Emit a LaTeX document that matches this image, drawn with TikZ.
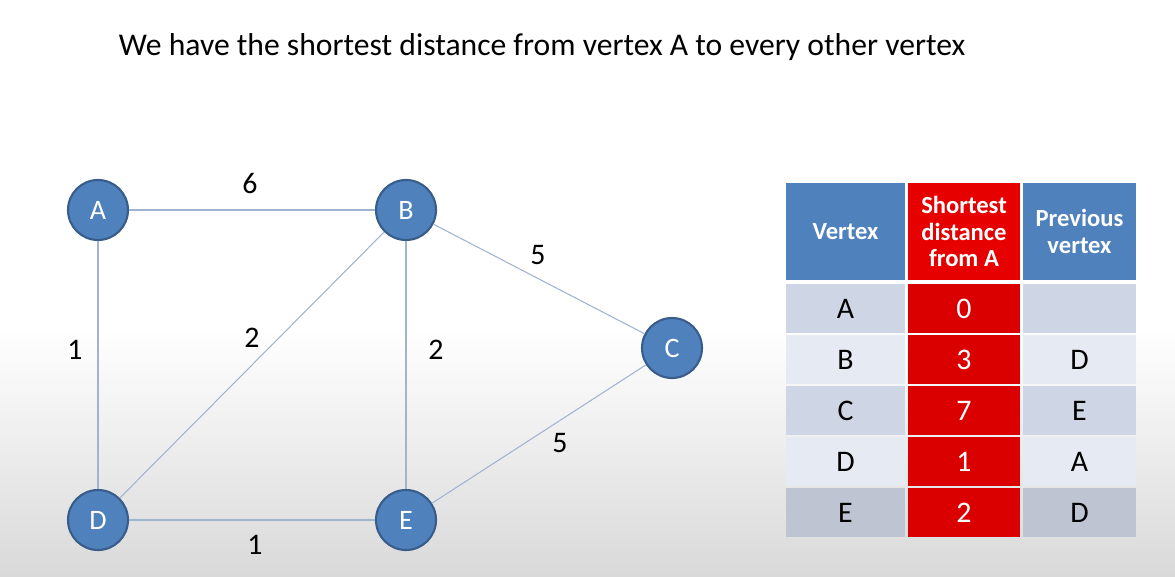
\documentclass[tikz,border=0pt]{standalone}
\usepackage{fontspec}
\setmainfont{Carlito}
\usetikzlibrary{positioning}
\definecolor{vblue}{RGB}{79,129,189}
\definecolor{vborder}{RGB}{56,93,138}
\definecolor{edgeblue}{RGB}{160,180,210}
\definecolor{hdrred}{RGB}{230,0,0}
\definecolor{cellred}{RGB}{218,0,0}
\definecolor{rowdark}{RGB}{206,213,228}
\definecolor{rowlight}{RGB}{230,234,242}

\begin{document}
\begin{tikzpicture}[x=0.02cm, y=-0.02cm,
    vertex/.style={circle, fill=vblue, draw=vborder, line width=1.2pt,
                   minimum size=1.2cm, inner sep=0pt, text=white,
                   font=\fontsize{16}{16}\selectfont},
    edge/.style={draw=edgeblue, line width=0.6pt},
    wlbl/.style={font=\fontsize{17}{17}\selectfont},
    hdr/.style={fill=vblue, text=white, align=center,
                minimum height=1.94cm, inner sep=0pt,
                font=\fontsize{14}{15}\selectfont\bfseries},
    cell/.style={minimum height=0.98cm, inner sep=0pt,
                 font=\fontsize{17}{17}\selectfont},
  ]
    % background
    \fill[white] (0,0) rectangle (1175,577);
    \shade[top color=white, bottom color=gray!30] (0,330) rectangle (1175,577);

    \node[font=\fontsize{18}{18}\selectfont] (title) at (542,47)
      {We have the shortest distance from vertex A to every other vertex};

    % graph
    \node[vertex] (A) at (98,210)  {A};
    \node[vertex] (B) at (406,210) {B};
    \node[vertex] (C) at (672,348) {C};
    \node[vertex] (D) at (98,520)  {D};
    \node[vertex] (E) at (406,520) {E};

    \draw[edge] (A) -- (B);
    \draw[edge] (A) -- (D);
    \draw[edge] (D) -- (B);
    \draw[edge] (B) -- (E);
    \draw[edge] (B) -- (C);
    \draw[edge] (E) -- (C);
    \draw[edge] (D) -- (E);

    \node[wlbl] (wab) at (250,184) {6};
    \node[wlbl] (wad) at (75,350)  {1};
    \node[wlbl] (wdb) at (252,338) {2};
    \node[wlbl] (wbe) at (436,350) {2};
    \node[wlbl] (wbc) at (538,255) {5};
    \node[wlbl] (wec) at (560,443) {5};
    \node[wlbl] (wde) at (255,545) {1};

    % table
    \node[hdr, minimum width=2.38cm] (hvert) at (845.5,231.5) {Vertex};
    \node[hdr, minimum width=2.24cm, fill=hdrred] (hdist) at (964,231.5)
      {Shortest\\distance\\from A};
    \node[hdr, minimum width=2.26cm] (hprev) at (1079.5,231.5) {Previous\\vertex};

    \foreach \v/\d/\p/\rc [count=\i] in {A/0//rowdark, B/3/D/rowlight,
        C/7/E/rowdark, D/1/A/rowlight, E/2/D/rowdark!92!black}{
      \node[cell, fill=\rc, minimum width=2.38cm] (v\i) at (845.5,{257.5+51*\i}) {\v};
      \node[cell, fill=cellred, text=white, minimum width=2.24cm] (d\i) at (964,{257.5+51*\i}) {\d};
      \node[cell, fill=\rc, minimum width=2.26cm] (p\i) at (1079.5,{257.5+51*\i}) {\p};
    }
\end{tikzpicture}
\end{document}
